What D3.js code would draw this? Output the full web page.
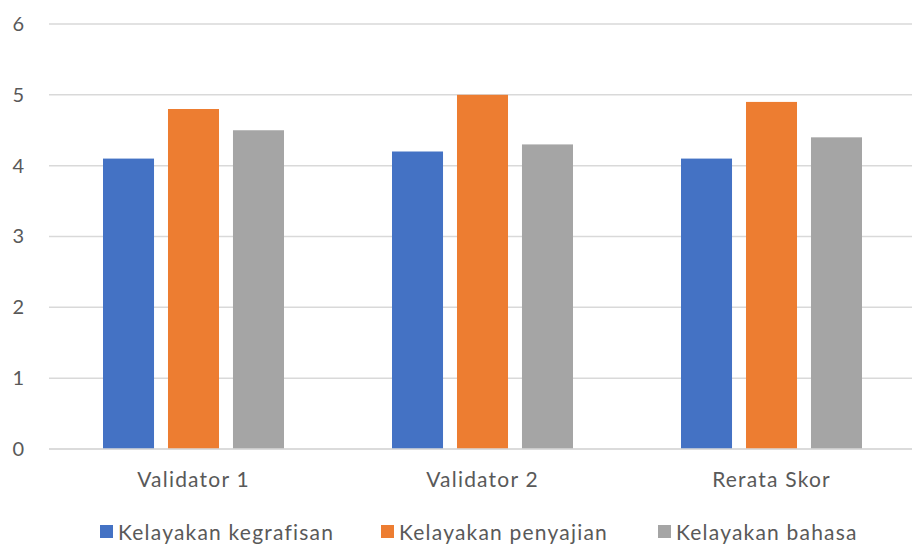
<!DOCTYPE html>
<html>
<head>
<meta charset="utf-8">
<script src="https://cdn.jsdelivr.net/npm/d3@7"></script>
<style>
  body { margin: 0; background: #fff; }
  text { font-family: "Tw Cen MT", Lato, "Open Sans", sans-serif; fill: #595959; }
</style>
</head>
<body>
<div id="chart"></div>
<script>
// chart data
const categories = ["Validator 1", "Validator 2", "Rerata Skor"];
const seriesNames = ["Kelayakan kegrafisan", "Kelayakan penyajian", "Kelayakan bahasa"];
const kegrafisan = [4.1, 4.2, 4.1];
const penyajian = [4.8, 5.0, 4.9];
const bahasa = [4.5, 4.3, 4.4];
const yTicks = [0, 1, 2, 3, 4, 5, 6];
const colors = ["#4472c4", "#ed7d31", "#a5a5a5"];

const WIDTH = 912, HEIGHT = 545;
const PLOT = {left: 49, right: 916, top: 24, bottom: 449};
const FONT = "'Tw Cen MT', Lato, 'Open Sans', sans-serif";

const svg = d3.select("#chart").append("svg")
    .attr("width", WIDTH)
    .attr("height", HEIGHT);

const seriesValues = [kegrafisan, penyajian, bahasa];
const rows = categories.map((c, i) => ({
  cat: c,
  vals: seriesNames.map((s, j) => ({name: s, value: seriesValues[j][i], color: colors[j]}))
}));

const x0 = d3.scaleBand()
  .domain(categories)
  .range([PLOT.left, PLOT.right]);

const groupW = 181;
const x1 = d3.scaleBand()
  .domain(seriesNames)
  .range([(x0.step() - groupW) / 2, (x0.step() + groupW) / 2])
  .paddingInner(0.215);

const y = d3.scaleLinear()
  .domain([0, 6])
  .range([PLOT.bottom, PLOT.top]);

// gridlines
svg.append("g")
  .selectAll("line")
  .data(yTicks)
  .enter()
  .append("line")
    .attr("x1", PLOT.left)
    .attr("x2", WIDTH)
    .attr("y1", d => y(d))
    .attr("y2", d => y(d))
    .attr("stroke", "#d9d9d9")
    .attr("stroke-width", 1.5);

// y tick labels
const yAxis = svg.append("g")
  .attr("transform", "translate(" + 25 + ",0)")
  .call(d3.axisLeft(y).tickValues(yTicks).tickFormat(d3.format("d")).tickSize(0).tickPadding(0));
yAxis.select(".domain").remove();
yAxis.selectAll("text")
  .attr("font-size", "20px")
  .attr("fill", "#595959")
  .attr("font-family", FONT)
  .style("letter-spacing", "1px");

// bars
const groups = svg.append("g")
  .selectAll("g")
  .data(rows)
  .enter()
  .append("g")
    .attr("transform", d => "translate(" + x0(d.cat) + ",0)");

groups.selectAll("rect")
  .data(d => d.vals)
  .enter()
  .append("rect")
    .attr("x", d => x1(d.name))
    .attr("y", d => y(d.value))
    .attr("width", x1.bandwidth())
    .attr("height", d => y(0) - y(d.value))
    .attr("fill", d => d.color);

// baseline on top of bars
svg.append("line")
  .attr("x1", PLOT.left).attr("x2", WIDTH)
  .attr("y1", y(0)).attr("y2", y(0))
  .attr("stroke", "#d9d9d9")
  .attr("stroke-width", 1.5);

// category labels
const xAxis = svg.append("g")
  .attr("transform", "translate(0," + y(0) + ")")
  .call(d3.axisBottom(x0).tickSize(0).tickPadding(38));
xAxis.select(".domain").remove();
xAxis.selectAll("text")
  .attr("font-size", "21px")
  .attr("fill", "#595959")
  .attr("font-family", FONT)
  .style("letter-spacing", "1.2px")
  .attr("dy", "0");

// legend
const legendX = [100, 381, 658];
const legend = svg.append("g")
  .selectAll("g")
  .data(seriesNames)
  .enter()
  .append("g")
    .attr("transform", (d, i) => "translate(" + legendX[i] + ",532)");

legend.append("rect")
  .attr("x", 0).attr("y", -7)
  .attr("width", 13).attr("height", 13)
  .attr("fill", (d, i) => colors[i]);

legend.append("text")
  .attr("x", 18)
  .attr("y", 8)
  .attr("font-size", "21px")
  .style("letter-spacing", "1.2px")
  .text(d => d);
</script>
</body>
</html>
